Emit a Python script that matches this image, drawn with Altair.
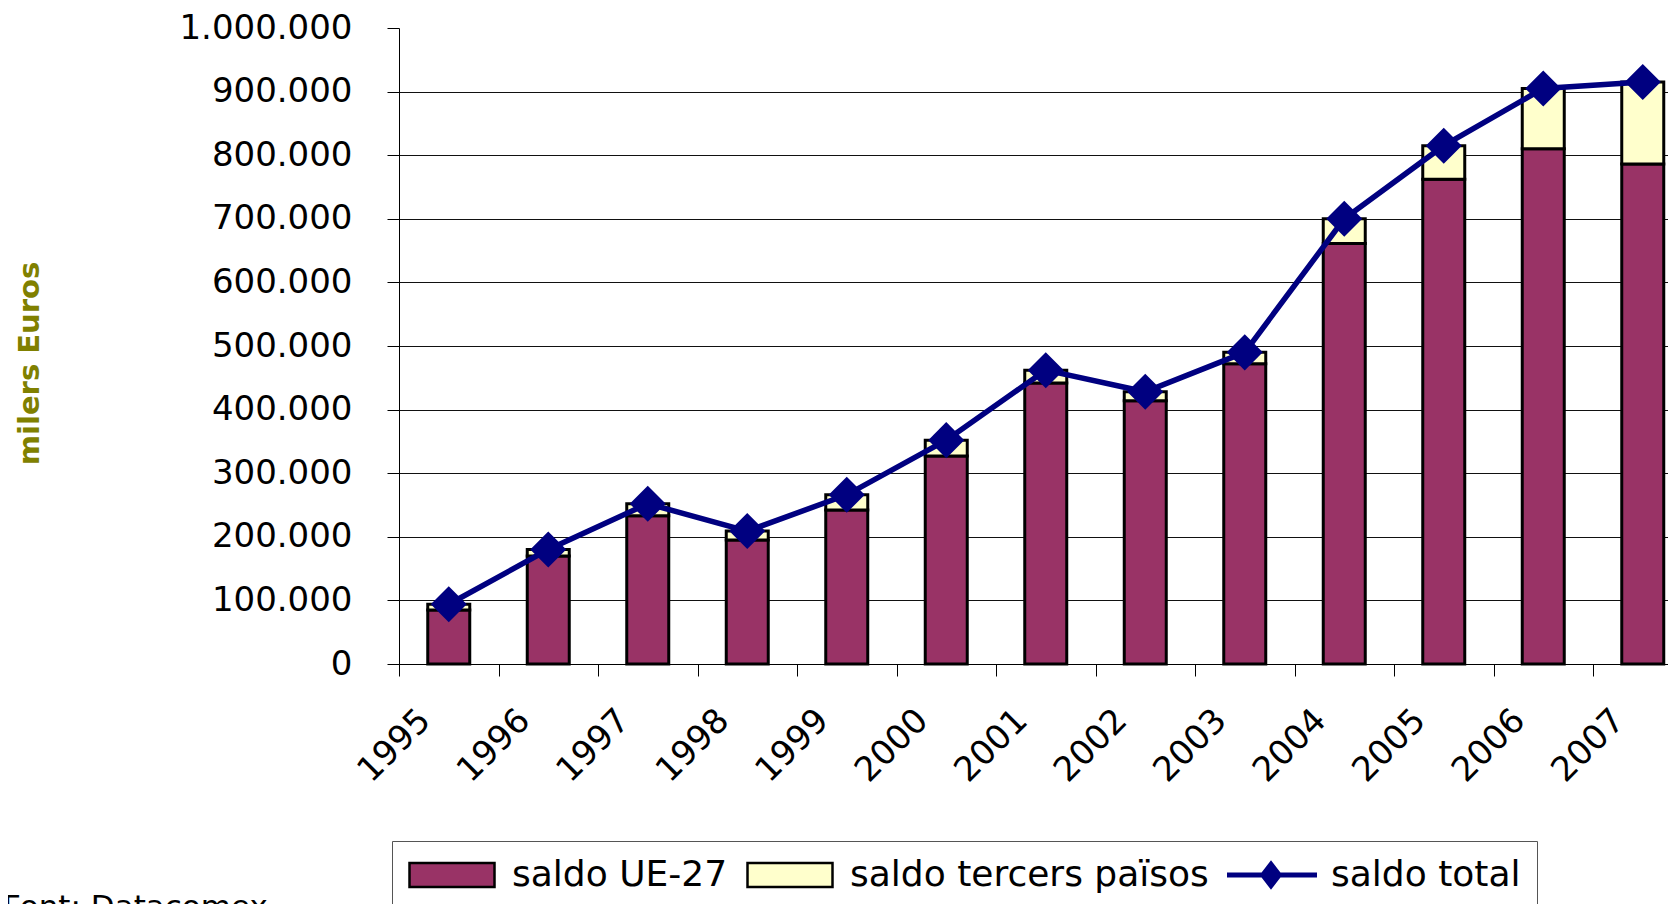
import altair as alt
import pandas as pd

years = ["1995", "1996", "1997", "1998", "1999", "2000", "2001",
         "2002", "2003", "2004", "2005", "2006", "2007"]
saldo_ue27 = [85000, 170000, 233000, 195000, 242000, 327000, 442000,
              414000, 472000, 661000, 762000, 810000, 786000]
saldo_tercers = [9000, 10000, 19000, 14000, 24000, 25000, 20000,
                 14000, 18000, 39000, 53000, 95000, 129000]
saldo_total = [94000, 180000, 252000, 209000, 266000, 352000, 462000,
               428000, 490000, 700000, 815000, 905000, 915000]
series_names = ["saldo UE-27", "saldo tercers països", "saldo total"]
series_colors = ["#993366", "#FFFFCC", "#000080"]
y_ticks = [0, 100000, 200000, 300000, 400000, 500000, 600000, 700000,
           800000, 900000, 1000000]
source_note = ["Font: Datacomex"]

rows = []
for i, yr in enumerate(years):
    rows.append({"year": yr, "serie": series_names[0], "value": saldo_ue27[i], "ord": 0})
    rows.append({"year": yr, "serie": series_names[1], "value": saldo_tercers[i], "ord": 1})
bars_df = pd.DataFrame(rows)
line_df = pd.DataFrame({"year": years, "serie": series_names[2], "value": saldo_total})
note_df = pd.DataFrame({"t": source_note})

FONT = "DejaVu Sans"
NAVY = "#000080"
rect_path = "M-1,-0.282H1V0.282H-1Z"
line_path = "M-1.053,-0.029H1.053V0.029H-1.053Z M0,-0.3L0.23,0L0,0.3L-0.23,0Z"

color_scale = alt.Scale(domain=series_names, range=series_colors)

legend = alt.Legend(
    title=None,
    orient="none",
    legendX=-7,
    legendY=813,
    direction="horizontal",
    labelFont=FONT,
    labelFontSize=36,
    labelColor="black",
    labelOffset=16,
    labelLimit=800,
    clipHeight=36,
    symbolType={"expr": f"datum.value === 'saldo total' ? '{line_path}' : '{rect_path}'"},
    symbolStrokeColor={"expr": f"datum.value === 'saldo total' ? '{NAVY}' : 'black'"},
    symbolSize=7225,
    symbolStrokeWidth=2.5,
    symbolOpacity=1,
    columnPadding=18,
    padding=16,
    strokeColor="#555555",
    fillColor="white",
)

x_enc = alt.X(
    "year:N",
    sort=years,
    scale=alt.Scale(paddingInner=0, paddingOuter=0, range=[0, 1293.5]),
    axis=alt.Axis(
        title=None,
        labelAngle=-45,
        labelAlign="right",
        labelBaseline="middle",
        labelOffset=-24,
        labelPadding=39,
        labelFontSize=34,
        labelColor="black",
        tickBand="extent",
        tickSize=12,
        tickColor="black",
        domainColor="black",
        grid=False,
    ),
)

y_axis = alt.Axis(
    values=y_ticks,
    labelExpr="replace(replace(format(datum.value, ','), ',', '.'), ',', '.')",
    labelFontSize=34,
    labelColor="black",
    labelPadding=35,
    tickSize=12,
    tickColor="black",
    domainColor="black",
    grid=True,
    gridColor="#111111",
    gridWidth=1,
    gridOpacity={"condition": {"test": "datum.value >= 1000000", "value": 0}, "value": 1},
    title="milers Euros",
    titleFont=FONT,
    titleFontSize=29,
    titleFontWeight="bold",
    titleColor="#808000",
    titleX=-370,
    titleY=335,
    titleAlign="center",
    titleBaseline="middle",
    titleAngle=270,
)

bars = alt.Chart(bars_df).mark_bar(width=42, stroke="black", strokeWidth=3).encode(
    x=x_enc,
    y=alt.Y("value:Q", stack="zero", scale=alt.Scale(domain=[0, 1000000], nice=False), axis=y_axis),
    color=alt.Color("serie:N", scale=color_scale, legend=legend),
    order=alt.Order("ord:Q", sort="ascending"),
)

line = alt.Chart(line_df).mark_line(strokeWidth=5.5, color=NAVY).encode(
    x=alt.X("year:N", sort=years),
    y=alt.Y("value:Q"),
)

points = alt.Chart(line_df).mark_point(
    shape="diamond", filled=True, size=1300, opacity=1, color=NAVY
).encode(
    x=alt.X("year:N", sort=years),
    y=alt.Y("value:Q"),
)

note = alt.Chart(note_df).mark_text(
    align="left", baseline="alphabetic", fontSize=31, color="black", font=FONT
).encode(
    text="t:N",
    x=alt.value(-396),
    y=alt.value(889),
)

chart = alt.layer(bars, line, points, note).properties(
    width=1269,
    height=636,
    autosize=alt.AutoSizeParams(type="none"),
    padding={"left": 391, "top": 20, "right": 0, "bottom": 270},
    background="white",
).configure(font=FONT).configure_view(stroke=None)

chart.save("out.html", embed_options={"renderer": "svg", "actions": False})
